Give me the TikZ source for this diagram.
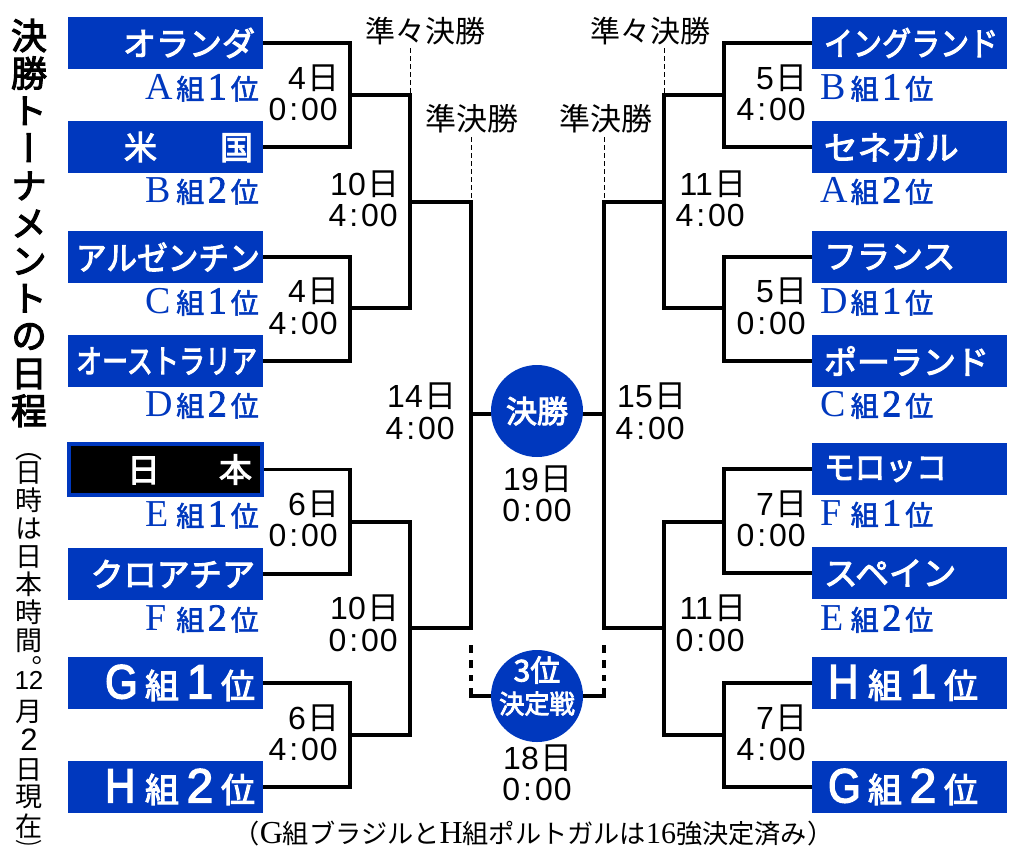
\documentclass[tikz,border=0pt]{standalone}
\usepackage{graphicx}
\usepackage{fontspec}
\setmainfont{Noto Sans CJK JP}
\newfontfamily\ser{Liberation Serif}
\newfontfamily\serb[FakeBold=2]{Liberation Serif}
\newfontfamily\lat{Liberation Sans}
\newfontfamily\latb[FakeBold=3]{Liberation Sans}
\newfontfamily\md[FakeBold=3]{Noto Sans CJK JP}
\newfontfamily\mdl[FakeBold=2]{Noto Sans CJK JP}
\newfontfamily\vjp[RawFeature=+vert]{Noto Sans CJK JP}
\newfontfamily\vjpb[RawFeature=+vert,FakeBold=3]{Noto Sans CJK JP}
\definecolor{kblue}{RGB}{0,56,190}
\setlength{\lineskiplimit}{-200pt}
\setlength{\normallineskiplimit}{-200pt}
\newcommand\fs[1]{\fontsize{#1}{#1}\selectfont}
\newcommand\hsq[2]{\scalebox{#1}[1]{#2}}
\newcommand\grp[2]{\makebox[31pt][l]{\ser\fs{38}#1}\makebox[27pt][c]{\mdl\fs{28}組}\makebox[27pt][c]{\serb\fs{38}#2}\makebox[28pt][c]{\mdl\fs{28}位}}
\newcommand\bgrp[2]{\makebox[40pt][l]{\hsq{.88}{\latb\fs{48}#1}}\makebox[34pt][c]{\fs{34}組}\makebox[42pt][c]{\latb\fs{48}#2}\makebox[34pt][c]{\fs{34}位}}
\newcommand\tm[1]{{\lat #1\kern3pt:\kern3pt0\kern1pt0}}
\newcommand\dy[1]{{\lat #1}\kern2pt日\kern-2pt}
\tikzset{
  x=1pt,y=-1pt,
  team/.style={rectangle,fill=kblue,text=white,minimum height=52pt,text width=179pt,inner xsep=8pt,inner ysep=0pt,font=\md\fs{33}},
  teamL/.style={team,align=right},
  teamR/.style={team,align=left,inner xsep=12pt,text width=171pt},
  jpn/.style={teamL,fill=black,draw=kblue,line width=4pt,minimum height=51pt,text width=177pt},
  grpL/.style={anchor=east,inner sep=0pt,text=kblue},
  grpR/.style={anchor=west,inner sep=0pt,text=kblue},
  date/.style={inner sep=0pt,align=right,anchor=east,font=\fontsize{32}{31.5}\selectfont},
  dateC/.style={inner sep=0pt,align=center,font=\fontsize{32}{31}\selectfont},
  head/.style={inner sep=0pt},
  ball/.style={circle,fill=kblue,text=white,minimum size=92pt,inner sep=0pt,align=center,font=\md},
  balltext/.style={inner sep=0pt,text=white,align=center,font=\md\fontsize{26}{32}\selectfont},
  br/.style={line width=3.8pt,line join=miter},
  hint/.style={line width=0.8pt,dash pattern=on 5pt off 3pt},
  bdash/.style={line width=3.8pt,dash pattern=on 8pt off 7pt},
}
\begin{document}
\begin{tikzpicture}
\useasboundingbox (0,0) rectangle (1024,860);
% team boxes
\node[teamL] (t1) at (165.5,43) {オランダ};
\node[teamL] (t2) at (165.5,147) {米\kern63pt国\kern2pt};
\node[teamL] (t3) at (165.5,257) {\hsq{.93}{アルゼンチン}};
\node[teamL] (t4) at (165.5,361) {\hsq{.79}{オーストラリア}};
\node[jpn]   (t5) at (165.5,469.5) {日\kern59pt本\kern2pt};
\node[teamL] (t6) at (165.5,574) {クロアチア};
\node[teamL] (t7) at (165.5,683) {\bgrp{G}{1}};
\node[teamL] (t8) at (165.5,787) {\bgrp{H}{2}};
\node[teamR] (r1) at (909.5,43) {\hsq{.88}{イングランド}};
\node[teamR] (r2) at (909.5,147) {\hsq{1.02}{セネガル}};
\node[teamR] (r3) at (909.5,257) {フランス};
\node[teamR] (r4) at (909.5,361) {ポーランド};
\node[teamR] (r5) at (909.5,469) {\hsq{.93}{モロッコ}};
\node[teamR] (r6) at (909.5,573) {\hsq{1.02}{スペイン}};
\node[teamR] (r7) at (909.5,683) {\kern4pt\bgrp{H}{1}};
\node[teamR] (r8) at (909.5,787) {\kern4pt\bgrp{G}{2}};
% group labels
\node[grpL] (g1) at (259,88) {\grp{A}{1}};
\node[grpL] (g2) at (259,191) {\grp{B}{2}};
\node[grpL] (g3) at (259,302) {\grp{C}{1}};
\node[grpL] (g4) at (259,405) {\grp{D}{2}};
\node[grpL] (g5) at (259,515) {\grp{E}{1}};
\node[grpL] (g6) at (259,619) {\grp{F}{2}};
\node[grpR] (g7) at (820,88) {\grp{B}{1}};
\node[grpR] (g8) at (820,191) {\grp{A}{2}};
\node[grpR] (g9) at (820,302) {\grp{D}{1}};
\node[grpR] (g10) at (820,405) {\grp{C}{2}};
\node[grpR] (g11) at (820,514) {\grp{F}{1}};
\node[grpR] (g12) at (820,619) {\grp{E}{2}};
% central circles
\node[ball] (final) at (537,411) {\fs{31}決勝};
\node[ball] (third) at (537,696) {};
\node[balltext] (thirdt) at (537,686) {{\fs{30}3位}\\\hsq{.97}{決定戦}};
% junction coordinates, left half
\coordinate (a1) at (350,95);
\coordinate (a2) at (350,308);
\coordinate (a3) at (350,522);
\coordinate (a4) at (350,735);
\coordinate (b1) at (410,202);
\coordinate (b2) at (410,628);
\coordinate (c1) at (471,414);
% right half
\coordinate (e1) at (724,95);
\coordinate (e2) at (724,308);
\coordinate (e3) at (724,522);
\coordinate (e4) at (724,735);
\coordinate (f1) at (664,202);
\coordinate (f2) at (664,628);
\coordinate (h1) at (604,414);
% brackets
\draw[br] (t1.east) -| (a1) |- (t2.east);
\draw[br] (t3.east) -| (a2) |- (t4.east);
\draw[br] (t5.east) -| (a3) |- (t6.east);
\draw[br] (t7.east) -| (a4) |- (t8.east);
\draw[br] (a1) -| (b1) |- (a2);
\draw[br] (a3) -| (b2) |- (a4);
\draw[br] (b1) -| (c1) |- (b2);
\draw[br] (c1) -- (final.west |- c1);
\draw[br] (r1.west) -| (e1) |- (r2.west);
\draw[br] (r3.west) -| (e2) |- (r4.west);
\draw[br] (r5.west) -| (e3) |- (r6.west);
\draw[br] (r7.west) -| (e4) |- (r8.west);
\draw[br] (e1) -| (f1) |- (e2);
\draw[br] (e3) -| (f2) |- (e4);
\draw[br] (f1) -| (h1) |- (f2);
\draw[br] (h1) -- (final.east |- h1);
% third-place dashes
\coordinate (p1) at (471,645);
\coordinate (p2) at (471,681);
\coordinate (p3) at (471,688);
\coordinate (q1) at (604,645);
\coordinate (q2) at (604,681);
\coordinate (q3) at (604,688);
\draw[bdash] (p1) -- (p2);
\draw[bdash] (q1) -- (q2);
\draw[br] (p3) |- (third.west);
\draw[br] (q3) |- (third.east);
% round headings
\node[head,font=\fs{30}] (hq1) at (425,31) {準々決勝};
\node[head,font=\fs{31}] (hs1) at (471.5,119) {準決勝};
\node[head,font=\fs{30}] (hq2) at (650,31) {準々決勝};
\node[head,font=\fs{31}] (hs2) at (605.5,119) {準決勝};
\coordinate (u1) at (410,48);
\coordinate (u2) at (410,93);
\coordinate (v1) at (471,137);
\coordinate (v2) at (471,200);
\coordinate (w1) at (664,48);
\coordinate (w2) at (664,93);
\coordinate (z1) at (604,137);
\coordinate (z2) at (604,200);
\draw[hint] (u1) -- (u2);
\draw[hint] (v1) -- (v2);
\draw[hint] (w1) -- (w2);
\draw[hint] (z1) -- (z2);
% dates
\node[date] (d1) at (338,93) {\dy{4}\\\tm{0}};
\node[date] (d2) at (338,306.5) {\dy{4}\\\tm{4}};
\node[date] (d3) at (338,519) {\dy{6}\\\tm{0}};
\node[date] (d4) at (338,733) {\dy{6}\\\tm{4}};
\node[date] (d5) at (398,199) {\dy{10}\\\tm{4}};
\node[date] (d6) at (398,623.5) {\dy{10}\\\tm{0}};
\node[date] (d7) at (455,411.5) {\dy{14}\\\tm{4}};
\node[date] (d8) at (806,93) {\dy{5}\\\tm{4}};
\node[date] (d9) at (806,306.5) {\dy{5}\\\tm{0}};
\node[date] (d10) at (806,519) {\dy{7}\\\tm{0}};
\node[date] (d11) at (806,733) {\dy{7}\\\tm{4}};
\node[date] (d12) at (745,199) {\dy{11}\\\tm{4}};
\node[date] (d13) at (745,623.5) {\dy{11}\\\tm{0}};
\node[date] (d14) at (685,411.5) {\dy{15}\\\tm{4}};
\node[dateC] (d15) at (537,493.5) {\dy{19}\\\tm{0}};
\node[dateC] (d16) at (537,772.5) {\dy{18}\\\tm{0}};
% vertical title
\node[inner sep=0pt,align=center,font={\vjpb\fontsize{36}{37.5}\selectfont}] (title) at (29,223) {決\\勝\\ト\\ー\\ナ\\メ\\ン\\ト\\の\\日\\程};
\node[inner sep=0pt,align=center,font={\vjp\fontsize{27}{28}\selectfont}] (sub) at (29,654) {（\\[-4pt]日\\時\\は\\日\\本\\時\\間\\。\\[-17pt]{\lat\fs{26}12}\\[4pt]月\\[1pt]{\lat\fs{31}2}\\[1pt]日\\[-1pt]現\\[2pt]在\\[-9pt]{\fs{18}\hsq{1.5}{）}}};
% caption
\node[inner sep=0pt,font=\fs{26.2}] (cap) at (533.5,834) {（{\ser\fs{32}G}組ブラジルと{\ser\fs{32}H}組ポルトガルは{\ser\fs{30}16}強決定済み）};
\end{tikzpicture}
\end{document}
